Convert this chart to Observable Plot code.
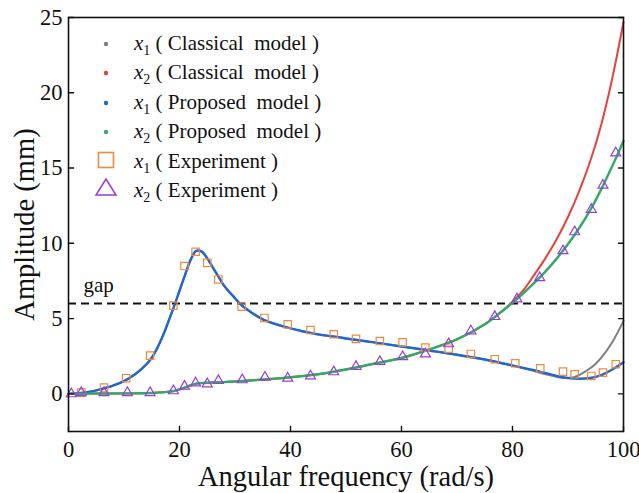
<!DOCTYPE html>
<html><head><meta charset="utf-8">
<script src="https://cdn.jsdelivr.net/npm/d3@7"></script>
<script src="https://cdn.jsdelivr.net/npm/@observablehq/plot@0.6"></script>
<style>
body{margin:0;background:#fff;}
#wrap{position:relative;width:639px;height:493px;overflow:hidden;}
#legend{position:absolute;left:0;top:0;width:639px;height:493px;pointer-events:none;font-family:"Liberation Serif","Times New Roman",serif;font-size:21px;color:#111;}
.sym{position:absolute;}
.lab{position:absolute;left:134px;white-space:pre;line-height:21px;}
.lab i{font-style:italic;}
.lab sub{font-size:14px;vertical-align:-5px;line-height:0;}
</style></head><body><div id="wrap"><div id="legend"></div></div>
<script>
// ---- data ----
const x1ClassicalFreq = [0,2,4,6,8,10,12,14,15,16,17,18,19,20,21,22,23,24,25,26,27,28,30,31,32,35,40,45,48,50,55,60,65,70,75,80,84,86,88,89,90,91,92,94,95,96,98,100];
const x1ClassicalAmp  = [0,0.05,0.15,0.33,0.55,0.85,1.3,1.95,2.4,3.05,3.85,4.8,5.8,6.85,7.9,8.9,9.5,9.45,9.0,8.4,7.8,7.2,6.35,5.95,5.65,4.95,4.35,3.95,3.8,3.68,3.42,3.15,2.88,2.6,2.28,1.88,1.5,1.3,1.12,1.06,1.05,1.1,1.25,1.7,2.0,2.4,3.45,4.85];

const x2ClassicalFreq = [0,5,10,15,17,18,19,20,21,22,23,24,26,28,30,35,40,45,50,55,60,65,70,75,78,80,82,84,86,88,90,92,94,96,98,100];
const x2ClassicalAmp  = [0,0.02,0.03,0.06,0.1,0.14,0.19,0.3,0.43,0.57,0.67,0.72,0.76,0.78,0.82,0.95,1.1,1.3,1.62,2.0,2.38,2.95,3.62,4.62,5.45,6.12,6.9,7.95,9.05,10.3,11.75,13.45,15.45,17.9,21.0,24.7];

const x1ProposedFreq = [0,2,4,6,8,10,12,14,15,16,17,18,19,20,21,22,23,24,25,26,27,28,30,31,32,35,40,45,48,50,55,60,65,70,75,80,85,88,90,92,94,96,98,100];
const x1ProposedAmp  = [0,0.05,0.15,0.33,0.55,0.85,1.3,1.95,2.4,3.05,3.85,4.8,5.8,6.85,7.9,8.9,9.5,9.45,9.0,8.4,7.8,7.2,6.35,5.95,5.65,4.95,4.35,3.95,3.8,3.68,3.42,3.15,2.88,2.6,2.28,1.88,1.48,1.2,1.05,1.0,1.05,1.25,1.62,2.1];

const x2ProposedFreq = [0,5,10,15,17,18,19,20,21,22,23,24,26,28,30,35,40,45,50,55,60,65,70,75,78,80,82,84,86,88,90,92,94,96,98,100];
const x2ProposedAmp  = [0,0.02,0.03,0.06,0.1,0.14,0.19,0.3,0.43,0.57,0.67,0.72,0.76,0.78,0.82,0.95,1.1,1.3,1.62,2.0,2.38,2.95,3.62,4.62,5.45,6.05,6.7,7.4,8.15,9.0,9.95,11.0,12.2,13.6,15.15,16.8];

const x1ExpFreq = [2.3,6.4,10.4,14.7,18.9,20.9,22.9,25,27,31.2,35.3,39.5,43.6,47.8,51.8,56.1,60.2,64.3,68.5,72.5,76.8,80.5,85,89.1,91.2,94.2,96.3,98.6];
const x1ExpAmp  = [0.08,0.42,1.04,2.54,5.86,8.49,9.44,8.7,7.6,5.79,5.04,4.62,4.24,3.96,3.65,3.51,3.42,3.07,3.0,2.65,2.3,2.03,1.7,1.48,1.3,1.19,1.41,1.97];

const x2ExpFreq = [0.5,2.3,6.4,10.6,14.7,18.9,20.9,22.9,25,27,31.3,35.4,39.5,43.6,47.8,51.8,56.1,60.2,64.3,68.5,72.5,76.8,80.8,84.9,89.1,91.2,94.2,96.3,98.6];
const x2ExpAmp  = [0.0,0.08,0.08,0.08,0.08,0.2,0.5,0.72,0.66,0.88,0.93,1.1,1.04,1.19,1.46,1.81,2.14,2.47,2.65,3.32,4.18,5.13,6.3,7.71,9.5,10.76,12.25,13.86,16.0];

const gapLevel = [6];
const gapLabel = ["gap"];
const xTicks = [0,20,40,60,80,100];
const yTicks = [0,5,10,15,20,25];
const xDomain = [0,100];
const yDomain = [-2.5,25];
const xTitle = "Angular frequency (rad/s)";
const yTitle = "Amplitude (mm)";

const seriesNames = ["x1 ( Classical  model )","x2 ( Classical  model )","x1 ( Proposed  model )","x2 ( Proposed  model )","x1 ( Experiment )","x2 ( Experiment )"];
const colors = ["#7f7f7f","#e8413c","#2266d0","#33a868","#ee8a3c","#9a3ae0"];

// ---- build tables ----
const zip = (xs, ys) => xs.map((x, i) => ({x, y: ys[i]}));
const grayData = zip(x1ClassicalFreq, x1ClassicalAmp);
const redData = zip(x2ClassicalFreq, x2ClassicalAmp);
const blueData = zip(x1ProposedFreq, x1ProposedAmp);
const greenData = zip(x2ProposedFreq, x2ProposedAmp);
const sqData = zip(x1ExpFreq, x1ExpAmp);
const triData = zip(x2ExpFreq, x2ExpAmp);

const tickShape = {draw(ctx, l) { ctx.moveTo(0, 0); ctx.lineTo(0, -l); }};
const serif = '"Liberation Serif", "Times New Roman", serif';

const chart = Plot.plot({
  width: 639, height: 493,
  marginLeft: 68, marginRight: 16, marginTop: 17, marginBottom: 62,
  style: {fontFamily: serif, background: "white", color: "#111"},
  x: {domain: xDomain},
  y: {domain: yDomain},
  marks: [
    Plot.ruleY(gapLevel, {stroke: "#111", strokeWidth: 2, strokeDasharray: "8,5"}),
    Plot.text(gapLabel, {x: xDomain[0], y: gapLevel[0], text: d => d, dx: 15, dy: -18, textAnchor: "start", fontSize: 21, fill: "#111", fontFamily: serif}),
    Plot.line(grayData, {x: "x", y: "y", stroke: colors[0], strokeWidth: 2, curve: "catmull-rom"}),
    Plot.line(redData, {x: "x", y: "y", stroke: colors[1], strokeWidth: 2, curve: "catmull-rom"}),
    Plot.line(blueData, {x: "x", y: "y", stroke: colors[2], strokeWidth: 2.4, curve: "catmull-rom"}),
    Plot.line(greenData, {x: "x", y: "y", stroke: colors[3], strokeWidth: 2.4, curve: "catmull-rom"}),
    Plot.dot(sqData, {x: "x", y: "y", symbol: "square", r: 4.2, stroke: colors[4], strokeWidth: 1.2, fill: "none"}),
    Plot.dot(triData, {x: "x", y: "y", symbol: "triangle", r: 3.7, stroke: colors[5], strokeWidth: 1.2, fill: "none"}),
    Plot.frame({stroke: "#111", strokeWidth: 1.6}),
    Plot.vector(yTicks, {x: xDomain[0], y: d => d, length: 5, rotate: 90, anchor: "start", shape: tickShape, stroke: "#111", strokeWidth: 1.4}),
    Plot.vector(yTicks, {x: xDomain[1], y: d => d, length: 5, rotate: -90, anchor: "start", shape: tickShape, stroke: "#111", strokeWidth: 1.4}),
    Plot.vector(xTicks, {x: d => d, y: yDomain[0], length: 5, rotate: 0, anchor: "start", shape: tickShape, stroke: "#111", strokeWidth: 1.4}),
    Plot.axisX(xTicks, {tickSize: 0, tickPadding: 10, fontSize: 22.5, label: null, fill: "#111", fontFamily: serif}),
    Plot.axisY(yTicks, {tickSize: 0, tickPadding: 6, fontSize: 22.5, label: null, fill: "#111", fontFamily: serif}),
    Plot.text([xTitle], {frameAnchor: "bottom", lineAnchor: "middle", textAnchor: "middle", dy: 45, fontSize: 28.5, fill: "#111", text: d => d, fontFamily: serif}),
    Plot.text([yTitle], {frameAnchor: "left", lineAnchor: "middle", textAnchor: "middle", dx: -44, rotate: -90, fontSize: 28.5, fill: "#111", text: d => d, fontFamily: serif})
  ]
});
document.getElementById("wrap").prepend(chart);
chart.style.position = "absolute"; chart.style.left = "0"; chart.style.top = "0";

// ---- legend (HTML overlay) ----
const legend = document.getElementById("legend");
const rowY = [43.5, 73, 102.5, 132, 161.5, 190.5];
const symX = 106;
seriesNames.forEach((name, i) => {
  const m = name.match(/^x(\d) (.*)$/);
  const lab = document.createElement("div");
  lab.className = "lab";
  lab.style.top = (rowY[i] - 11) + "px";
  lab.innerHTML = `<i>x</i><sub>${m[1]}</sub> ${m[2]}`;
  legend.appendChild(lab);
  const s = document.createElementNS("http://www.w3.org/2000/svg", "svg");
  s.setAttribute("class", "sym");
  s.setAttribute("width", 24); s.setAttribute("height", 24);
  s.style.left = (symX - 12) + "px"; s.style.top = (rowY[i] - 12 - (i === 5 ? 4 : i === 4 ? 2 : 0)) + "px";
  let el;
  if (i < 4) {
    el = document.createElementNS(s.namespaceURI, "circle");
    el.setAttribute("cx", 12); el.setAttribute("cy", 12); el.setAttribute("r", 2.2);
    el.setAttribute("fill", colors[i]);
  } else if (i === 4) {
    el = document.createElementNS(s.namespaceURI, "rect");
    el.setAttribute("x", 4.5); el.setAttribute("y", 4.5); el.setAttribute("width", 15); el.setAttribute("height", 15);
    el.setAttribute("fill", "none"); el.setAttribute("stroke", colors[i]); el.setAttribute("stroke-width", 1.6);
  } else {
    el = document.createElementNS(s.namespaceURI, "path");
    el.setAttribute("d", "M12,4 L22,20 L2,20 Z");
    el.setAttribute("fill", "none"); el.setAttribute("stroke", colors[i]); el.setAttribute("stroke-width", 1.5);
  }
  s.appendChild(el);
  legend.appendChild(s);
});
</script>
</body></html>
